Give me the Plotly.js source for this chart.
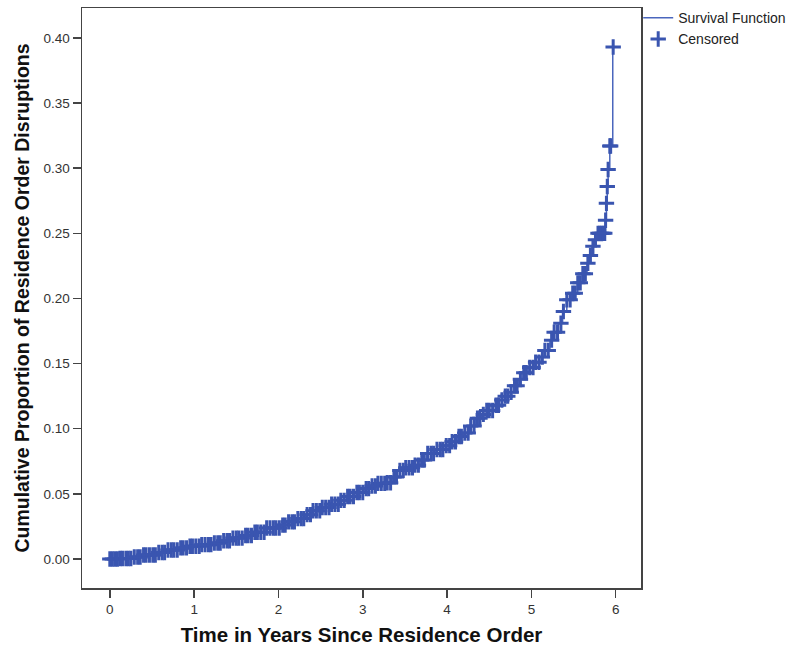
<!DOCTYPE html>
<html>
<head>
<meta charset="utf-8">
<script src="https://cdn.plot.ly/plotly-3.0.1.min.js"></script>
<style>html,body{margin:0;padding:0;background:#fff;}#chart{width:796px;height:653px;}</style>
</head>
<body>
<div id="chart"></div>
<script>
// Step times (years) and cumulative proportion of disruptions
var stepTimes = [0, 0.10, 0.27, 0.40, 0.55, 0.68, 0.82, 0.95, 1.08, 1.22, 1.34, 1.46, 1.58, 1.70, 1.86,
  2.02, 2.12, 2.22, 2.32, 2.41, 2.52, 2.62, 2.72, 2.81, 2.92, 3.02, 3.10, 3.17, 3.29, 3.35, 3.41, 3.50,
  3.60, 3.68, 3.76, 3.86, 3.96, 4.04, 4.12, 4.19, 4.27, 4.34, 4.41, 4.47, 4.55, 4.62, 4.69, 4.75, 4.80,
  4.85, 4.90, 4.96, 5.03, 5.10, 5.16, 5.22, 5.27, 5.32, 5.37, 5.42, 5.48, 5.55, 5.61, 5.66, 5.69, 5.72,
  5.76, 5.79, 5.88, 5.89, 5.90, 5.91, 5.93, 5.965];
var stepCum = [0, 0.0004, 0.0015, 0.0030, 0.0050, 0.0069, 0.0085, 0.0098, 0.0110, 0.0123, 0.0140, 0.0160, 0.0180, 0.0205, 0.0238,
  0.0260, 0.0285, 0.0310, 0.0340, 0.0370, 0.0395, 0.0420, 0.0450, 0.0480, 0.0510, 0.0540, 0.0560, 0.0580, 0.0585, 0.0630, 0.0680, 0.0700,
  0.0720, 0.0760, 0.0810, 0.0840, 0.0870, 0.0900, 0.0940, 0.0967, 0.1020, 0.1080, 0.1110, 0.1140, 0.1180, 0.1220, 0.1250, 0.1280, 0.1330,
  0.1380, 0.1430, 0.1470, 0.1510, 0.1550, 0.1600, 0.1680, 0.1740, 0.1810, 0.1900, 0.1990, 0.2040, 0.2120, 0.2190, 0.2270, 0.2330, 0.2400,
  0.2450, 0.2500, 0.2600, 0.2730, 0.2860, 0.2990, 0.3170, 0.3930];
// Censored observation times (years)
var censorTimes = [0.00,0.03,0.06,0.09,0.12,0.15,0.19,0.22,0.25,0.29,0.33,0.36,0.40,0.43,0.47,0.51,0.54,0.58,0.62,0.65,
  0.69,0.73,0.76,0.80,0.84,0.87,0.91,0.95,0.98,1.02,1.06,1.09,1.13,1.17,1.20,1.24,1.28,1.31,1.35,1.39,1.42,1.46,1.50,
  1.53,1.57,1.61,1.64,1.68,1.72,1.75,1.79,1.83,1.86,1.90,1.94,1.97,2.01,2.05,2.08,2.12,2.16,2.19,2.23,2.27,2.30,2.34,
  2.38,2.41,2.45,2.49,2.52,2.56,2.60,2.63,2.67,2.71,2.74,2.78,2.82,2.85,2.89,2.93,2.96,3.00,3.04,3.07,3.11,3.15,3.18,
  3.22,3.26,3.29,3.33,3.37,3.40,3.44,3.48,3.51,3.55,3.59,3.62,3.66,3.70,3.73,3.77,3.81,3.84,3.88,3.92,3.95,3.99,4.03,
  4.06,4.10,4.14,4.17,4.21,4.25,4.28,4.32,4.36,4.39,4.43,4.47,4.50,4.54,4.58,4.61,4.65,4.69,4.72,4.76,4.80,4.83,4.87,
  4.91,4.94,4.98,5.02,5.05,5.09,5.13,5.16,5.20,5.24,5.27,5.31,5.35,5.38,5.42,5.46,5.49,5.52,5.55,5.58,5.61,5.64,5.67,
  5.70,5.73,5.76,5.79,5.81,5.83,5.85,5.87,5.88,5.89,5.90,5.91,5.93,5.94,5.97];

function cumAt(t) {
  var v = 0;
  for (var i = 0; i < stepTimes.length; i++) { if (stepTimes[i] <= t + 1e-9) v = stepCum[i]; }
  return v;
}
var censorCum = censorTimes.map(cumAt);

var blue = '#3a55b0';
var fontFam = 'Liberation Sans, Arial, sans-serif';

var traces = [
  {x: stepTimes, y: stepCum, type: 'scatter', mode: 'lines', name: 'Survival Function',
   line: {shape: 'hv', color: '#4a66bd', width: 1.5}},
  {x: censorTimes, y: censorCum, type: 'scatter', mode: 'markers', name: 'Censored',
   marker: {symbol: 'cross-thin', size: 11, color: blue, line: {color: blue, width: 3}}}
];

var axisCommon = {
  showgrid: false, zeroline: false, showline: true, mirror: true,
  linecolor: '#444', linewidth: 1.5, ticks: 'outside', ticklen: 8, tickwidth: 1.5, tickcolor: '#444',
  tickfont: {family: fontFam, size: 13.5, color: '#333'}
};

var layout = {
  width: 796, height: 653,
  margin: {l: 82, r: 155, t: 8, b: 65, autoexpand: false},
  paper_bgcolor: '#fff', plot_bgcolor: '#fff',
  font: {family: fontFam},
  xaxis: Object.assign({}, axisCommon, {
    range: [-0.33, 6.30], tickmode: 'linear', tick0: 0, dtick: 1,
    title: {text: 'Time in Years Since Residence Order', font: {family: fontFam, size: 20.5, color: '#111', weight: 'bold'}, standoff: 12}
  }),
  yaxis: Object.assign({}, axisCommon, {
    range: [-0.0223, 0.423], tickmode: 'linear', tick0: 0, dtick: 0.05, tickformat: '.2f',
    title: {text: 'Cumulative Proportion of Residence Order Disruptions', font: {family: fontFam, size: 19.5, color: '#111', weight: 'bold'}, standoff: 8}
  }),
  legend: {x: 0.995, xanchor: 'left', y: 1.01, yanchor: 'top', font: {family: fontFam, size: 14, color: '#222'},
    bgcolor: 'rgba(0,0,0,0)', itemwidth: 30, tracegroupgap: 0},
  showlegend: true
};

Plotly.newPlot('chart', traces, layout, {displayModeBar: false, staticPlot: true});
</script>
</body>
</html>
